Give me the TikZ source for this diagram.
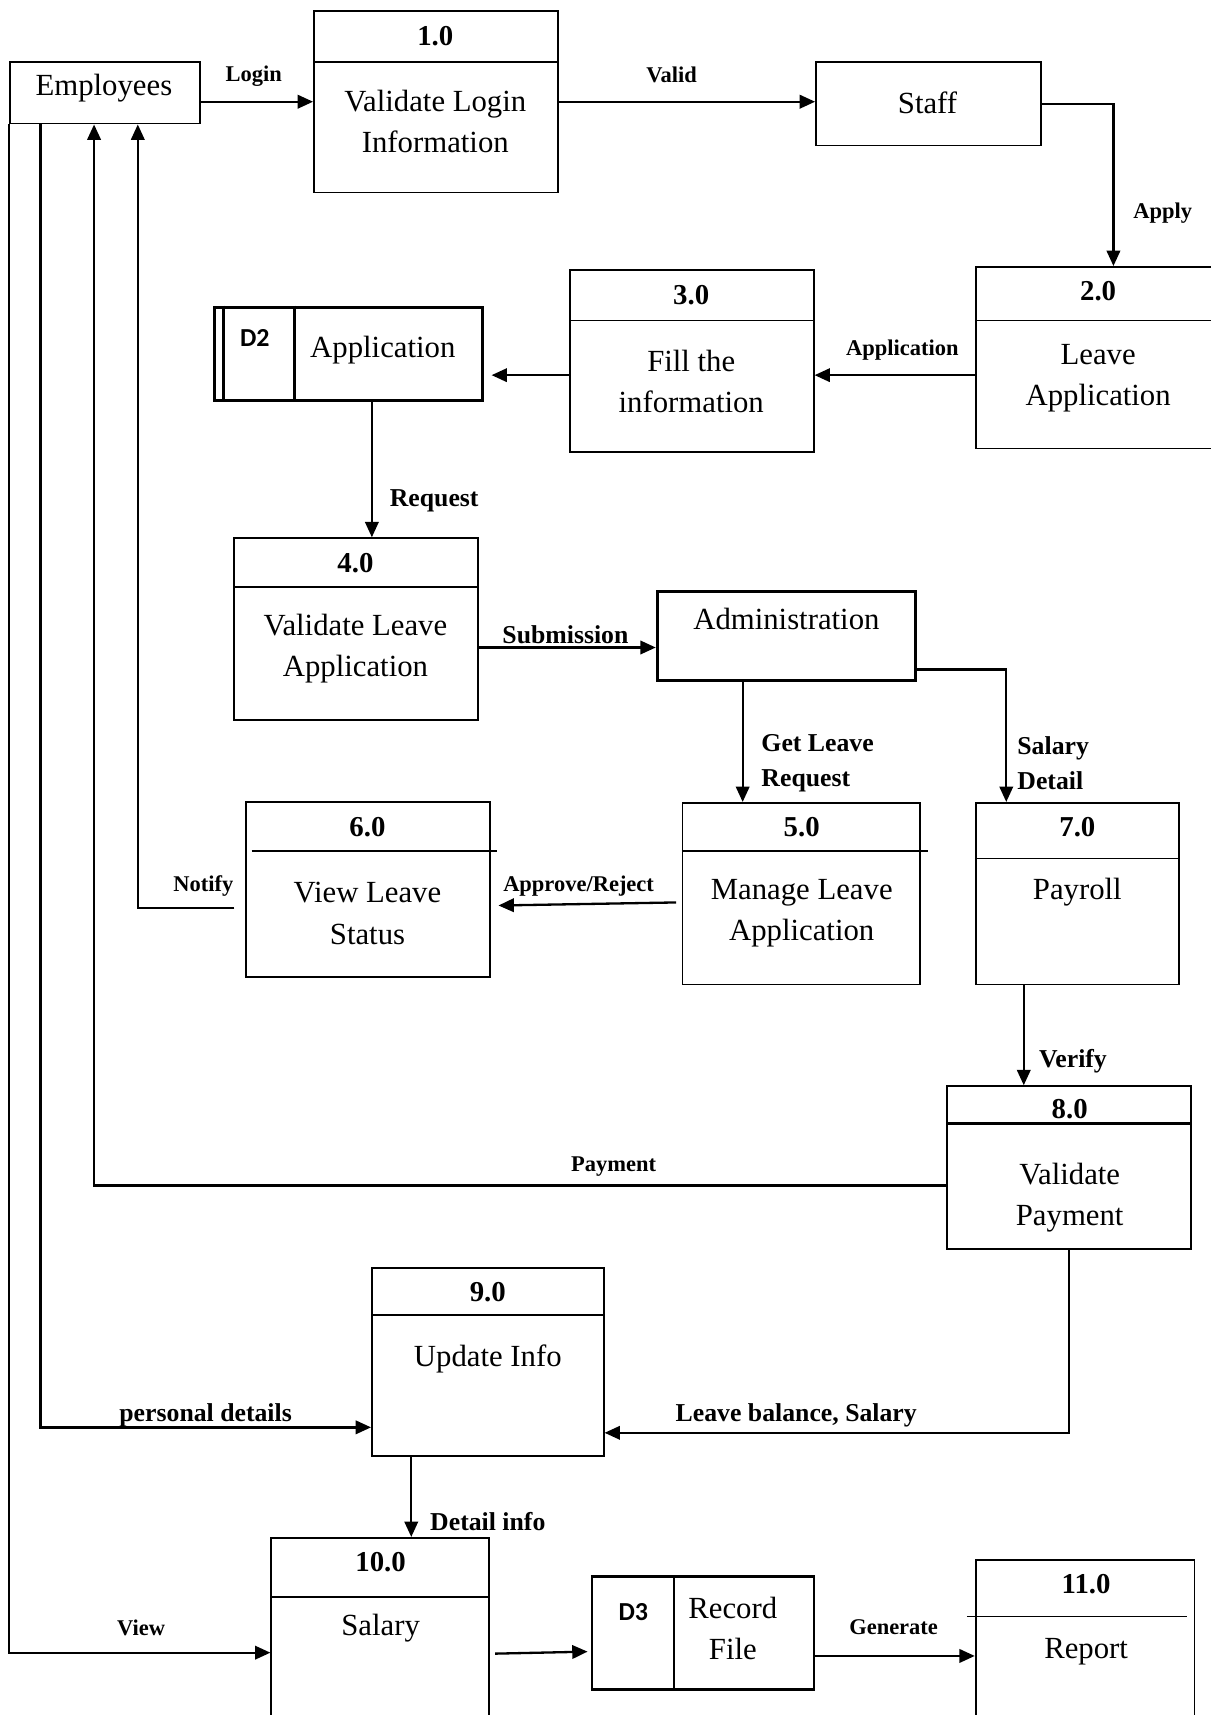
\documentclass[tikz,border=0pt]{standalone}
\usepackage{fontspec}
\setmainfont{Liberation Serif}
\newfontfamily\storefont{Carlito}
\usetikzlibrary{arrows.meta}
\tikzset{
	box/.style={draw, line width=0.9pt, inner sep=0pt},
	thickbox/.style={draw, line width=1.7pt, inner sep=0pt},
	flow/.style={line width=1.2pt, -{Triangle[length=8pt,width=7pt]}},
	num/.style={font=\fontsize{15}{18}\selectfont\bfseries},
	txt/.style={align=center, font=\fontsize{16}{21.6}\selectfont},
	lbl/.style={align=left, font=\fontsize{13.4}{18.2}\selectfont\bfseries},
	lbls/.style={font=\fontsize{11.7}{14}\selectfont\bfseries},
	dnum/.style={font=\storefont\fontsize{13.5}{16}\selectfont\bfseries}
}

\begin{document}
\begin{tikzpicture}[x=0.02cm, y=-0.02cm]
			%%%%% START %%%%%
			\useasboundingbox (0,0) rectangle (1107,1568);
			\clip (0,0) rectangle (1107,1568);
			
			% employees and staff
			\node[box, minimum width=3.48cm, minimum height=1.12cm] (emp) at (96,85) {};
			\node[txt] (empt) at (95,81) {Employees};
			\node[box, minimum width=4.12cm, minimum height=1.52cm] (staff) at (849,95) {};
			\node[txt] (stafft) at (848,94) {Staff};
			
			% 1.0
			\node[box, minimum width=4.46cm, minimum height=3.32cm] (p1) at (398.5,93) {};
			\draw[box] (p1.west |- 0,57) -- (p1.east |- 0,57);
			\node[num] (n1) at (398,33) {1.0};
			\node[txt] (t1) at (398,111) {Validate Login\\Information};
			
			% 2.0
			\node[box, minimum width=4.46cm, minimum height=3.32cm] (p2) at (1003.5,327) {};
			\draw[box] (p2.west |- 0,293) -- (p2.east |- 0,293);
			\node[num] (n2) at (1004,266) {2.0};
			\node[txt] (t2) at (1004,346) {Leave\\Application};
			
			% 3.0
			\node[box, minimum width=4.46cm, minimum height=3.32cm] (p3) at (632.5,330) {};
			\draw[box] (p3.west |- 0,293) -- (p3.east |- 0,293);
			\node[num] (n3) at (632,270) {3.0};
			\node[txt] (t3) at (632,349) {Fill the\\information};
			
			% D2 store
			\node[thickbox, minimum width=4.9cm, minimum height=1.7cm] (d2) at (318.5,323.5) {};
			\draw[line width=1.7pt] ([xshift=0.2cm]d2.north west) -- ([xshift=0.2cm]d2.south west);
			\draw[line width=1.7pt] ([xshift=1.5cm]d2.north west) -- ([xshift=1.5cm]d2.south west);
			\node[dnum] (d2n) at (233,309) {D2};
			\node[txt] (d2t) at (350,320) {Application};
			
			% 4.0
			\node[box, minimum width=4.46cm, minimum height=3.32cm] (p4) at (325.5,575) {};
			\draw[box] (p4.west |- 0,537) -- (p4.east |- 0,537);
			\node[num] (n4) at (325,515) {4.0};
			\node[txt] (t4) at (325,593) {Validate Leave\\Application};
			
			% administration
			\node[thickbox, minimum width=4.72cm, minimum height=1.62cm] (admin) at (719,581.5) {};
			\node[txt] (admint) at (719,566) {Administration};
			
			% 5.0
			\node[box, minimum width=4.34cm, minimum height=3.32cm] (p5) at (732.5,817) {};
			\draw[box] (p5.west |- 0,778) -- (848,778);
			\node[num] (n5) at (733,756) {5.0};
			\node[txt] (t5) at (733,835) {Manage Leave\\Application};
			
			% 6.0
			\node[box, minimum width=4.46cm, minimum height=3.2cm] (p6) at (336.5,813) {};
			\draw[box] (230,778) -- (454,778);
			\node[num] (n6) at (336,756) {6.0};
			\node[txt] (t6) at (336,835) {View Leave\\Status};
			
			% 7.0
			\node[box, minimum width=3.72cm, minimum height=3.32cm] (p7) at (985,817) {};
			\draw[box] (p7.west |- 0,785) -- (p7.east |- 0,785);
			\node[num] (n7) at (985,756) {7.0};
			\node[txt] (t7) at (985,816) {Payroll};
			
			% 8.0
			\node[box, minimum width=4.46cm, minimum height=2.98cm] (p8) at (977.5,1067.5) {};
			\draw[line width=1.8pt] (p8.west |- 0,1027) -- (p8.east |- 0,1027);
			\node[num] (n8) at (978,1014) {8.0};
			\node[txt] (t8) at (978,1095) {Validate\\Payment};
			
			% 9.0
			\node[box, minimum width=4.24cm, minimum height=3.44cm] (p9) at (446,1245) {};
			\draw[box] (p9.west |- 0,1202) -- (p9.east |- 0,1202);
			\node[num] (n9) at (446,1181) {9.0};
			\node[txt] (t9) at (446,1242) {Update Info};
			
			% 10.0
			\node[box, minimum width=3.98cm, minimum height=3.48cm] (p10) at (347.5,1493) {};
			\draw[box] (p10.west |- 0,1460) -- (p10.east |- 0,1460);
			\node[num] (n10) at (348,1428) {10.0};
			\node[txt] (t10) at (348,1489) {Salary};
			
			% D3 store
			\node[box, minimum width=4.06cm, minimum height=2.04cm] (d3) at (642.5,1493) {};
			\draw[line width=1.7pt] (d3.north west) -- (d3.north east);
			\draw[line width=1.7pt] (d3.south west) -- (d3.south east);
			\draw[box] ([xshift=1.52cm]d3.north west) -- ([xshift=1.52cm]d3.south west);
			\node[dnum] (d3n) at (579,1474) {D3};
			\node[txt] (d3t) at (670,1489) {Record\\File};
			
			% 11.0
			\node[box, minimum width=4cm, minimum height=3.08cm] (p11) at (992,1503) {};
			\draw[box] (884,1478) -- (1085,1478);
			\node[num] (n11) at (993,1448) {11.0};
			\node[txt] (t11) at (993,1510) {Report};
			
			% flows
			\draw[flow] (emp.east |- p1.west) -- (p1.west);
			\node[lbls] (l1) at (232,70) {Login};
			\draw[flow] (p1.east) -- (p1.east -| staff.west);
			\node[lbls] (l2) at (614,68) {Valid};
			\coordinate (ap) at ([xshift=0.29cm]p2.north);
			\draw[flow] (staff.east) -| (ap);
			\node[lbls] (l3) at (1063,195) {Apply};
			\coordinate (a2) at ([yshift=-0.32cm]p2.west);
			\draw[flow] (a2) -- (a2 -| p3.east);
			\node[lbls] (l4) at (825,320) {Application};
			\coordinate (a3) at ([yshift=-0.26cm]p3.west);
			\draw[flow, shorten >=0.14cm] (a3) -- (a3 -| d2.east);
			\coordinate (rq) at ([xshift=0.43cm]d2.south);
			\draw[flow] (rq) -- (rq |- p4.north);
			\node[lbl] (l5) at (397,458) {Request};
			\coordinate (s4) at ([yshift=-0.34cm]p4.east);
			\draw[flow] (s4) -- (s4 -| admin.west);
			\node[lbl] (l6) at (517,580) {Submission};
			\coordinate (g5) at ([xshift=-0.8cm]admin.south);
			\draw[flow] (g5) -- (g5 |- p5.north);
			\node[lbl, anchor=west] (l7) at (690,698) {Get Leave\\Request};
			\coordinate (s7) at ([yshift=-0.61cm]admin.east);
			\coordinate (t7) at ([xshift=-1.3cm]p7.north);
			\draw[flow] (s7) -| (t7);
			\node[lbl, anchor=west] (l8) at (924,698) {Salary\\Detail};
			\draw[flow, shorten <=0.1cm, shorten >=0.14cm] ([yshift=-0.16cm]p5.west) -- ([yshift=-0.3cm]p6.east);
			\node[lbls] (l9) at (529,810) {Approve/Reject};
			\coordinate (nt) at ([xshift=0.6cm]emp.south);
			\draw[flow, shorten <=0.2cm] ([yshift=-0.34cm]p6.west) -| (nt);
			\node[lbls] (l10) at (186,810) {Notify};
			\coordinate (v7) at ([xshift=-0.98cm]p7.south);
			\draw[flow] (v7) -- (v7 |- p8.north);
			\node[lbl] (l11) at (981,970) {Verify};
			\coordinate (pm) at ([xshift=-0.2cm]emp.south);
			\draw[flow] ([yshift=-0.33cm]p8.west) -| (pm);
			\node[lbls] (l12) at (561,1067) {Payment};
			\coordinate (lb) at ([yshift=-1.3cm]p9.east);
			\draw[flow] (p8.south) |- (lb);
			\node[lbl] (l13) at (728,1294) {Leave balance, Salary};
			\coordinate (pd) at ([xshift=-1.18cm]emp.south);
			\coordinate (pe) at ([yshift=-1.2cm]p9.west);
			\draw[flow] (pd) |- (pe);
			\node[lbl] (l14) at (188,1294) {personal details};
			\coordinate (di) at ([xshift=-1.4cm]p9.south);
			\draw[flow] (di) -- (di |- p10.north);
			\node[lbl] (l15) at (446,1391) {Detail info};
			\coordinate (vw) at ([yshift=-0.36cm]p10.west);
			\draw[flow] (emp.south west) |- (vw);
			\node[lbls] (l16) at (129,1488) {View};
			\draw[flow, shorten <=0.1cm, shorten >=0.06cm] ([yshift=-0.38cm]p10.east) -- ([yshift=-0.34cm]d3.west);
			\coordinate (gn) at ([yshift=-0.42cm]d3.east);
			\draw[flow] (gn) -- (gn -| p11.west);
			\node[lbls] (l17) at (817,1488) {Generate};
			
			%%%%% END %%%%%
\end{tikzpicture}
\end{document}
